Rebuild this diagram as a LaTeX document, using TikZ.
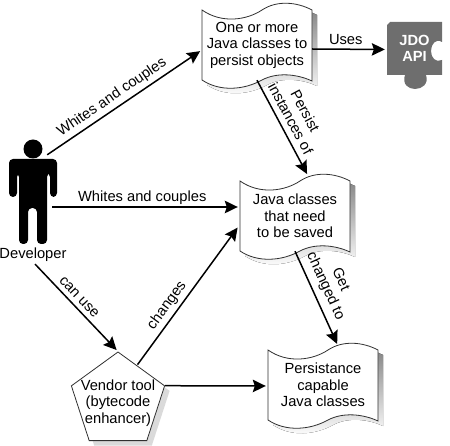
\documentclass[tikz,border=0pt]{standalone}
\usepackage{fontspec}
\setmainfont{Liberation Sans}
\usetikzlibrary{arrows.meta,shapes.geometric,shadows}
\definecolor{ink}{HTML}{000000}
\definecolor{edge}{HTML}{303030}
\definecolor{puzzle}{HTML}{6E6E6E}
\definecolor{shade}{HTML}{DADADA}

\newcommand{\wavedoc}[3]{%
  \begin{scope}[shift={#2}]
    \fill[shade,shift={(5,5)}] (0,0) .. controls (20,14) and (45,10) .. (60,0) .. controls (75,-10) and (95,-8) .. (110,0)
      -- (110,71) .. controls (95,64) and (75,62) .. (60,70) .. controls (42,80) and (18,82) .. (0,70) -- cycle;
    \draw[edge,fill=white,line width=.8pt] (0,0) .. controls (20,14) and (45,10) .. (60,0) .. controls (75,-10) and (95,-8) .. (110,0)
      -- (110,71) .. controls (95,64) and (75,62) .. (60,70) .. controls (42,80) and (18,82) .. (0,70) -- cycle;
    \node[doc] (#1) at (55,35) {#3};
  \end{scope}}

\begin{document}
\begin{tikzpicture}[
  x=1pt, y=-1pt,
  txt/.style={font=\fontsize{14.7}{16.5}\selectfont, text=ink, align=center},
  doc/.style={txt, rectangle, inner sep=0pt, minimum width=110pt, minimum height=70pt},
  flow/.style={-{Stealth[length=13pt,width=12.5pt,inset=2pt]}, ink, line width=1.5pt, shorten >=2pt},
  lbl/.style={txt, inner sep=3.5pt}
]
\useasboundingbox (0,0) rectangle (450,446);

\wavedoc{persist}{(202,10)}{One or more\\ Java classes to\\ persist objects}
\wavedoc{java}{(240,181)}{Java classes\\ that need\\ to be saved}
\wavedoc{capable}{(268,350)}{Persistance\\ capable\\ Java classes}

% vendor tool
\node[regular polygon, regular polygon sides=5, minimum size=98pt, inner sep=0pt,
      draw=edge, fill=white, line width=.8pt,
      copy shadow={shadow xshift=5pt, shadow yshift=-5pt, fill=shade, draw=none},
      label={[txt,yshift=-2pt]center:Vendor tool\\ (bytecode\\ enhancer)}] (vendor) at (118,401) {};

% puzzle piece
\fill[puzzle] (390,22) -- (442,22) -- (442,42) .. controls (436,38) and (431,44) .. (431,51)
  .. controls (431,58) and (436,63) .. (442,60) -- (442,75) -- (426,75)
  .. controls (429,84) and (422,89) .. (415,89) .. controls (408,89) and (402,84) .. (405,75)
  -- (387,75) -- (387,25) -- cycle;
\node[txt, font=\fontsize{14.7}{16}\selectfont\bfseries, text=white, minimum width=55pt, minimum height=53pt, inner sep=0pt] (jdo) at (414.5,48.5) {JDO\\ API};

% developer
\fill[ink] (33,149) circle (9.5);
\fill[ink, rounded corners=4pt] (9,197) -- (9,159) -- (57,159) -- (57,197) -- (50,197) -- (50,173) -- (47,173)
  -- (47,244) -- (37,244) -- (37,208) -- (28,208) -- (28,244) -- (19,244) -- (19,173) -- (17,173) -- (17,197) -- cycle;
\node[inner sep=0pt, minimum width=48pt, minimum height=104pt] (dev) at (33,192) {};
\node[txt, inner sep=0pt] (devname) at (33,255) {Developer};

\draw[flow] ([shift={(-10pt,-15pt)}]dev.north east) -- node[lbl, pos=.46, above, sloped] {Whites and couples} ([yshift=-5pt]persist.west);
\draw[flow] ([shift={(-5pt,-15pt)}]dev.east) -- node[lbl, pos=.48, above, inner sep=1.5pt] {Whites and couples} ([yshift=9pt]java.west);
\draw[flow] ([xshift=2pt,yshift=-2pt]devname.south) -- node[lbl, pos=.45, above=1pt, sloped] {can use} (vendor.north);
\draw[flow] ([shift={(-4pt,4pt)}]vendor.side 5) -- node[lbl, pos=.38, above, sloped] {changes} ([shift={(-1pt,-10pt)}]java.west);
\draw[flow] (vendor.corner 5) -- ([yshift=-1pt]capable.west);
\draw[flow] ([yshift=-4pt]persist.east) -- node[lbl, pos=.45, above] {Uses} ([yshift=-1pt]jdo.west);
\draw[flow] (persist.south) -- node[lbl, pos=.46, above=2pt, sloped] {Persist\\ instances of} ([shift={(13pt,5pt)}]java.north);
\draw[flow] (java.south) -- node[lbl, pos=.43, above=2pt, sloped] {Get\\ changed to} ([shift={(15pt,4pt)}]capable.north);
\end{tikzpicture}
\end{document}
